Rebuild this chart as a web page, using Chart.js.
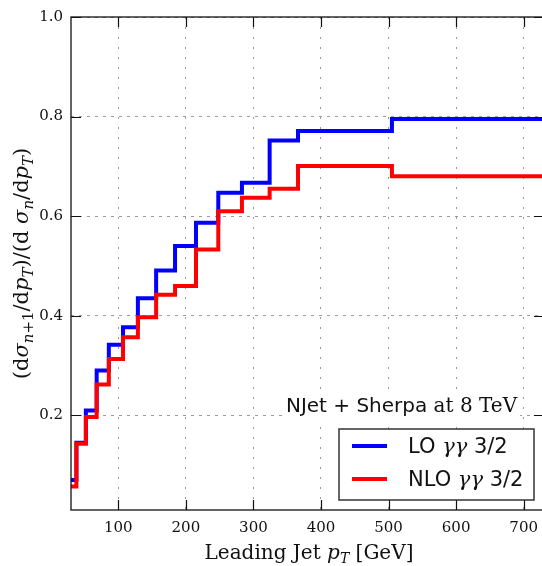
<!DOCTYPE html>
<html>
<head>
<meta charset="utf-8">
<script src="https://cdn.jsdelivr.net/npm/chart.js@4/dist/chart.umd.min.js"></script>
<style>
  html, body { margin: 0; padding: 0; background: #fff; overflow: hidden; width: 542px; height: 566px; }
  #wrap { position: absolute; left: 0; top: 0; width: 547px; height: 566px; }
</style>
</head>
<body>
<div id="wrap"><canvas id="c"></canvas></div>
<script>
// ---- data ----
const binEdges  = [30, 38, 52, 68, 86, 107, 129, 156, 184, 215, 248, 283, 324, 366, 505];
const xEnd      = 730;
const loValues  = [0.070, 0.145, 0.210, 0.290, 0.342, 0.377, 0.435, 0.491, 0.540, 0.587, 0.647, 0.667, 0.752, 0.771, 0.795];
const nloValues = [0.057, 0.143, 0.197, 0.262, 0.313, 0.357, 0.397, 0.442, 0.460, 0.533, 0.610, 0.637, 0.655, 0.701, 0.680];
const seriesLabels = ['LO γγ 3/2', 'NLO γγ 3/2'];
const xTicks = [100, 200, 300, 400, 500, 600, 700];
const yTicks = [0.2, 0.4, 0.6, 0.8, 1.0];
const annotationText = ['NJet + Sherpa', ' at 8 TeV'];

function stepPoints(vals) {
  const pts = binEdges.map((e, i) => ({x: e, y: vals[i]}));
  pts.push({x: xEnd, y: vals[vals.length - 1]});
  return pts;
}

const SERIF = '"DejaVu Serif"';
const SANS = '"DejaVu Sans"';

function drawRich(ctx, segs, x, y, align) {
  let w = 0;
  segs.forEach(s => { ctx.font = s.font; w += ctx.measureText(s.t).width; });
  let cx = align === 'center' ? x - w / 2 : x;
  segs.forEach(s => {
    ctx.font = s.font;
    ctx.fillText(s.t, cx, y + (s.dy || 0));
    cx += ctx.measureText(s.t).width;
  });
  return w;
}

const decor = {
  id: 'decor',
  afterDatasetsDraw(chart) {
    const ctx = chart.ctx;
    const a = chart.chartArea;
    const xs = chart.scales.x, ys = chart.scales.y;
    ctx.save();
    // frame
    ctx.strokeStyle = '#111';
    ctx.lineWidth = 1.3;
    ctx.strokeRect(a.left, a.top, a.right - a.left, a.bottom - a.top);
    // inner tick marks
    ctx.lineWidth = 1.2;
    ctx.beginPath();
    xs.ticks.forEach(t => {
      const px = Math.round(xs.getPixelForValue(t.value)) + 0.5;
      ctx.moveTo(px, a.bottom); ctx.lineTo(px, a.bottom - 10);
      ctx.moveTo(px, a.top); ctx.lineTo(px, a.top + 10);
    });
    ys.ticks.forEach(t => {
      const py = Math.round(ys.getPixelForValue(t.value)) + 0.5;
      ctx.moveTo(a.left, py); ctx.lineTo(a.left + 10, py);
      ctx.moveTo(a.right, py); ctx.lineTo(a.right - 10, py);
    });
    ctx.stroke();

    ctx.fillStyle = '#111';
    ctx.textBaseline = 'alphabetic';
    // x title
    const fs = 20, sub = 14;
    drawRich(ctx, [
      {t: 'Leading Jet ', font: `${fs}px ${SERIF}`},
      {t: 'p', font: `italic ${fs}px ${SERIF}`},
      {t: 'T', font: `italic ${sub}px ${SERIF}`, dy: 4},
      {t: ' [GeV]', font: `${fs}px ${SERIF}`}
    ], 309, 559, 'center');

    // y title (rotated)
    ctx.save();
    ctx.translate(28, (a.top + a.bottom) / 2);
    ctx.rotate(-Math.PI / 2);
    const yf = 21, ys2 = 15;
    drawRich(ctx, [
      {t: '(d', font: `${yf}px ${SERIF}`},
      {t: 'σ', font: `italic ${yf}px ${SERIF}`},
      {t: 'n', font: `italic ${ys2}px ${SERIF}`, dy: 5},
      {t: '+1', font: `${ys2}px ${SERIF}`, dy: 5},
      {t: '/d', font: `${yf}px ${SERIF}`},
      {t: 'p', font: `italic ${yf}px ${SERIF}`},
      {t: 'T', font: `italic ${ys2}px ${SERIF}`, dy: 5},
      {t: ')/(d ', font: `${yf}px ${SERIF}`},
      {t: 'σ', font: `italic ${yf}px ${SERIF}`},
      {t: 'n', font: `italic ${ys2}px ${SERIF}`, dy: 5},
      {t: '/d', font: `${yf}px ${SERIF}`},
      {t: 'p', font: `italic ${yf}px ${SERIF}`},
      {t: 'T', font: `italic ${ys2}px ${SERIF}`, dy: 5},
      {t: ')', font: `${yf}px ${SERIF}`}
    ], 0, 0, 'center');
    ctx.restore();

    // annotation with white background
    const af = 20;
    const annSegs = [
      {t: annotationText[0], font: `${af}px ${SANS}`},
      {t: annotationText[1], font: `${af}px ${SERIF}`}
    ];
    let aw = 0;
    annSegs.forEach(s => { ctx.font = s.font; aw += ctx.measureText(s.t).width; });
    const acx = 401.5;
    ctx.fillStyle = '#fff';
    ctx.fillRect(acx - aw / 2 - 3, 397, aw + 6, 24);
    ctx.fillStyle = '#111';
    drawRich(ctx, annSegs, acx, 412, 'center');

    // legend box
    const lx = 339, ly = 429, lw = 195, lh = 71;
    ctx.fillStyle = '#fff';
    ctx.fillRect(lx, ly, lw, lh);
    ctx.strokeStyle = '#333';
    ctx.lineWidth = 1.5;
    ctx.strokeRect(lx, ly, lw, lh);
    const lf = 21;
    chart.data.datasets.forEach((ds, i) => {
      const yy = 446 + i * 33;
      ctx.strokeStyle = ds.borderColor;
      ctx.lineWidth = 4;
      ctx.beginPath();
      ctx.moveTo(352, yy); ctx.lineTo(387, yy);
      ctx.stroke();
      ctx.fillStyle = '#111';
      const parts = ds.label.split(/(γ+)/).filter(p => p.length);
      drawRich(ctx, parts.map(p => ({
        t: p,
        font: p[0] === 'γ' ? `italic ${lf}px ${SERIF}` : `${lf}px ${SANS}`
      })), 408, yy + 7, 'left');
    });
    ctx.restore();
  }
};

new Chart(document.getElementById('c'), {
  type: 'line',
  data: {
    datasets: [
      {label: seriesLabels[0], data: stepPoints(loValues), borderColor: '#0000ff', borderWidth: 4,
       stepped: 'before', pointRadius: 0, fill: false, order: 2, borderJoinStyle: 'miter'},
      {label: seriesLabels[1], data: stepPoints(nloValues), borderColor: '#ff0000', borderWidth: 4,
       stepped: 'before', pointRadius: 0, fill: false, order: 1, borderJoinStyle: 'miter'}
    ]
  },
  options: {
    responsive: true,
    maintainAspectRatio: false,
    animation: false,
    events: [],
    layout: {padding: {top: 15, right: 0, left: 0, bottom: 0}},
    plugins: {legend: {display: false}, tooltip: {enabled: false}},
    scales: {
      x: {
        type: 'linear', min: 30, max: xEnd,
        afterBuildTicks: s => { s.ticks = xTicks.map(v => ({value: v})); },
        afterFit: s => { s.height = 56; },
        ticks: {color: '#111', font: {family: 'DejaVu Serif', size: 15}, padding: 9, maxRotation: 0,
                callback: v => String(v)},
        grid: {color: '#9a9a9a', lineWidth: 1, drawTicks: false},
        border: {display: false, dash: [2, 8]}
      },
      y: {
        type: 'linear', min: 0.01, max: 1.0,
        afterBuildTicks: s => { s.ticks = yTicks.map(v => ({value: v})); },
        afterFit: s => { s.width = 71; },
        ticks: {color: '#111', font: {family: 'DejaVu Serif', size: 15}, padding: 8,
                callback: v => v.toFixed(1)},
        grid: {color: '#9a9a9a', lineWidth: 1, drawTicks: false},
        border: {display: false, dash: [3, 5]}
      }
    }
  },
  plugins: [decor]
});
</script>
</body>
</html>
